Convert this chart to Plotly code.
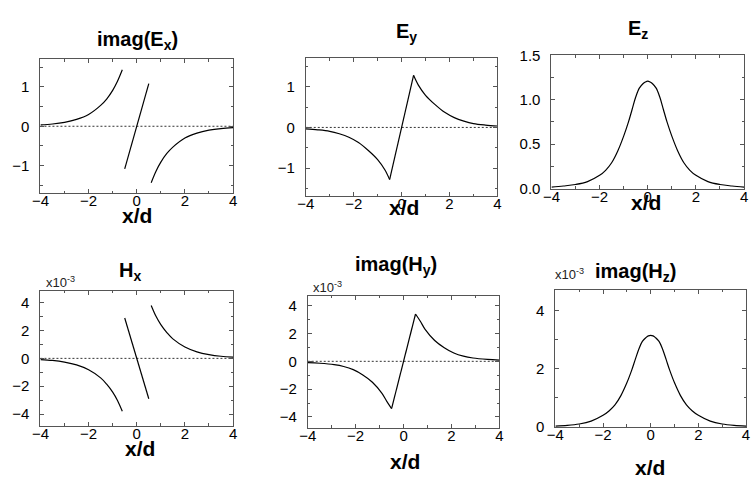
import plotly.graph_objects as go

W, H = 751, 487

# ---------------- data ----------------
# imag(Ex): three segments
ex_x_left = [-4.0, -3.5, -3.0, -2.5, -2.0, -1.5, -1.25, -1.0, -0.8, -0.6]
ex_y_left = [0.034, 0.058, 0.10, 0.175, 0.30, 0.53, 0.69, 0.91, 1.14, 1.43]
ex_x_mid = [-0.5, 0.5]
ex_y_mid = [-1.08, 1.08]
ex_x_right = [0.6, 0.8, 1.0, 1.25, 1.5, 2.0, 2.5, 3.0, 3.5, 4.0]
ex_y_right = [-1.43, -1.14, -0.91, -0.69, -0.53, -0.30, -0.175, -0.10, -0.058, -0.034]

# Ey
ey_x_left = [-4.0, -3.5, -3.0, -2.6, -2.2, -1.8, -1.4, -1.0, -0.7, -0.5]
ey_y_left = [-0.035, -0.058, -0.095, -0.155, -0.24, -0.37, -0.56, -0.79, -1.04, -1.28]
ey_x_mid = [-0.5, 0.5]
ey_y_mid = [-1.28, 1.28]
ey_x_right = [0.5, 0.7, 1.0, 1.4, 1.8, 2.2, 2.6, 3.0, 3.5, 4.0]
ey_y_right = [1.28, 1.04, 0.79, 0.56, 0.37, 0.24, 0.155, 0.095, 0.058, 0.035]

# Ez
ez_x = [-4.0, -3.5, -3.0, -2.5, -2.0, -1.75, -1.5, -1.25, -1.0, -0.8, -0.65, -0.5, -0.35, -0.2, -0.1, 0.0,
        0.1, 0.2, 0.35, 0.5, 0.65, 0.8, 1.0, 1.25, 1.5, 1.75, 2.0, 2.5, 3.0, 3.5, 4.0]
ez_y = [0.015, 0.028, 0.045, 0.078, 0.148, 0.205, 0.29, 0.42, 0.59, 0.75, 0.89, 1.03, 1.13, 1.18, 1.20, 1.21,
        1.20, 1.18, 1.13, 1.03, 0.89, 0.75, 0.59, 0.42, 0.29, 0.205, 0.148, 0.078, 0.045, 0.028, 0.015]

# Hx (x10^-3)
hx_x_left = [-4.0, -3.5, -3.0, -2.5, -2.0, -1.5, -1.25, -1.0, -0.8, -0.6]
hx_y_left = [-0.09, -0.15, -0.27, -0.47, -0.82, -1.40, -1.85, -2.42, -3.02, -3.80]
hx_x_mid = [-0.5, 0.5]
hx_y_mid = [2.9, -2.9]
hx_x_right = [0.6, 0.8, 1.0, 1.25, 1.5, 2.0, 2.5, 3.0, 3.5, 4.0]
hx_y_right = [3.80, 3.02, 2.42, 1.85, 1.40, 0.82, 0.47, 0.27, 0.15, 0.09]

# imag(Hy) (x10^-3)
hy_x_left = [-4.0, -3.5, -2.9, -2.5, -2.1, -1.7, -1.3, -0.9, -0.7, -0.5]
hy_y_left = [-0.09, -0.14, -0.24, -0.37, -0.60, -0.98, -1.50, -2.30, -2.88, -3.40]
hy_x_mid = [-0.5, 0.5]
hy_y_mid = [-3.40, 3.40]
hy_x_right = [0.5, 0.7, 0.9, 1.3, 1.7, 2.1, 2.5, 2.9, 3.5, 4.0]
hy_y_right = [3.40, 2.88, 2.30, 1.50, 0.98, 0.60, 0.37, 0.24, 0.14, 0.09]

# imag(Hz) (x10^-3)
hz_x = ez_x
hz_y = [0.025, 0.05, 0.10, 0.20, 0.40, 0.55, 0.76, 1.08, 1.52, 1.95, 2.32, 2.68, 2.95, 3.08, 3.14, 3.16,
        3.14, 3.08, 2.95, 2.68, 2.32, 1.95, 1.52, 1.08, 0.76, 0.55, 0.40, 0.20, 0.10, 0.05, 0.025]

x_ticks = [-4, -2, 0, 2, 4]
titles = ["imag(E<sub>x</sub>)", "E<sub>y</sub>", "E<sub>z</sub>",
          "H<sub>x</sub>", "imag(H<sub>y</sub>)", "imag(H<sub>z</sub>)"]

# ---------------- layout geometry (pixels) ----------------
boxes = [  # left, right, top, bottom
    (32, 228, 52, 191),
    (302, 497, 51, 194),
    (552, 748, 48, 186),
    (32, 228, 292, 432),
    (304, 499, 297, 434),
    (556, 750, 291, 433),
]
yranges = [(-1.7, 1.7), (-1.69, 1.70), (0, 1.5), (-4.85, 4.85), (-4.78, 4.72), (0, 4.73)]
ymajor = [1, 1, 0.5, 2, 2, 2]
yminor = [0.5, 0.5, 0.25, 1, 1, 1]
yfmt = ["", "", ".1f", "", "", ""]

title_pos = [(131, 33), (405, 24), (640, 21), (123, 272), (394, 266), (638, 273)]
xd_pos = [(130, 214), (402, 206), (648, 201), (133, 455), (403, 469), (652, 475)]
exp_pos = [None, None, None, (36, 283), (307, 288), (554, 275)]

FONT = "Arial, Liberation Sans, sans-serif"
FRAME = "#555555"

fig = go.Figure()

def seg(i, xs, ys, shape):
    fig.add_trace(go.Scatter(x=xs, y=ys, mode="lines",
                             line=dict(color="black", width=1.2, shape=shape, smoothing=1.0),
                             xaxis="x" if i == 0 else f"x{i+1}",
                             yaxis="y" if i == 0 else f"y{i+1}",
                             showlegend=False, hoverinfo="skip"))

seg(0, ex_x_left, ex_y_left, "spline"); seg(0, ex_x_mid, ex_y_mid, "linear"); seg(0, ex_x_right, ex_y_right, "spline")
seg(1, ey_x_left, ey_y_left, "spline"); seg(1, ey_x_mid, ey_y_mid, "linear"); seg(1, ey_x_right, ey_y_right, "spline")
seg(2, ez_x, ez_y, "spline")
seg(3, hx_x_left, hx_y_left, "spline"); seg(3, hx_x_mid, hx_y_mid, "linear"); seg(3, hx_x_right, hx_y_right, "spline")
seg(4, hy_x_left, hy_y_left, "spline"); seg(4, hy_x_mid, hy_y_mid, "linear"); seg(4, hy_x_right, hy_y_right, "spline")
seg(5, hz_x, hz_y, "spline")

layout = dict(width=W, height=H, margin=dict(l=0, r=0, t=0, b=0),
              paper_bgcolor="white", plot_bgcolor="white",
              font=dict(family=FONT, color="black"), showlegend=False)

annotations = []
shapes = []
for i, (l, r, t, b) in enumerate(boxes):
    sx = "" if i == 0 else str(i + 1)
    axis_common = dict(showline=True, linecolor=FRAME, linewidth=1, mirror="ticks",
                       ticks="inside", ticklen=4, tickcolor=FRAME, tickwidth=1,
                       showgrid=False, zeroline=False,
                       tickfont=dict(family=FONT, size=15, color="black"))
    layout["xaxis" + sx] = dict(domain=[l / W, r / W], anchor="y" + sx, range=[-4, 4],
                                tickvals=x_ticks, ticklabelstandoff=-6,
                                minor=dict(ticks="inside", ticklen=2.5, dtick=1, tickcolor=FRAME),
                                **axis_common)
    layout["yaxis" + sx] = dict(domain=[1 - b / H, 1 - t / H], anchor="x" + sx, range=list(yranges[i]),
                                dtick=ymajor[i], tick0=0, tickformat=yfmt[i], ticklabelstandoff=7,
                                minor=dict(ticks="inside", ticklen=2.5, dtick=yminor[i], tick0=0, tickcolor=FRAME),
                                **axis_common)
    tx, ty = title_pos[i]
    annotations.append(dict(text="<b>" + titles[i] + "</b>", x=tx / W, y=1 - ty / H, xref="paper", yref="paper",
                            xanchor="center", yanchor="middle", showarrow=False,
                            font=dict(family=FONT, size=20, color="black")))
    dx, dy = xd_pos[i]
    annotations.append(dict(text="<b>x/d</b>", x=dx / W, y=1 - dy / H, xref="paper", yref="paper",
                            xanchor="center", yanchor="middle", showarrow=False,
                            font=dict(family=FONT, size=21, color="black")))
    if exp_pos[i] is not None:
        ex_, ey_ = exp_pos[i]
        annotations.append(dict(text="x10<sup>-3</sup>", x=ex_ / W, y=1 - ey_ / H, xref="paper", yref="paper",
                                xanchor="left", yanchor="middle", showarrow=False,
                                font=dict(family=FONT, size=13, color="#222222")))
    if i in (0, 1, 3, 4):
        shapes.append(dict(type="line", xref=f"x{sx} domain", x0=0, x1=1, yref="y" + sx, y0=0.0, y1=0.0,
                           line=dict(color="#333333", width=1, dash="2px,2px"), layer="below"))

layout["annotations"] = annotations
layout["shapes"] = shapes
fig.update_layout(**layout)
fig.write_html("out.html")
